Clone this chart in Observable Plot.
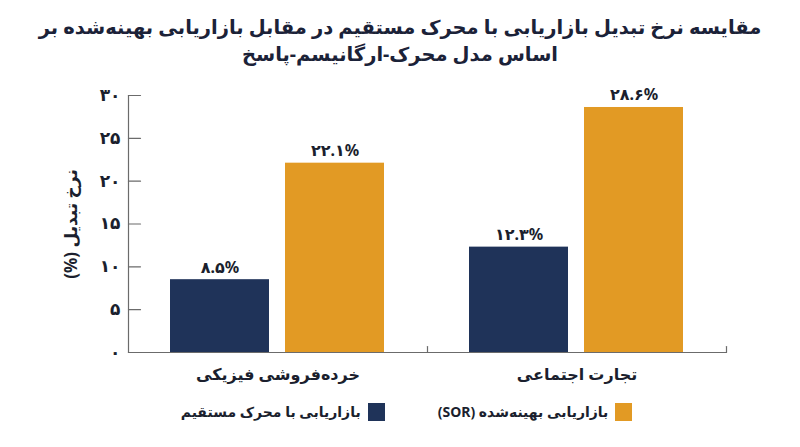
<!DOCTYPE html>
<html lang="fa">
<head>
<meta charset="utf-8">
<script src="https://cdn.jsdelivr.net/npm/d3@7"></script>
<script src="https://cdn.jsdelivr.net/npm/@observablehq/plot@0.6"></script>
<style>
  html, body { margin: 0; padding: 0; background: #fff; }
  body { width: 800px; height: 447px; overflow: hidden; font-family: "Noto Sans", "DejaVu Sans", sans-serif; color: #1b1f2e; }
  #title { margin: 0; padding-top: 13px; height: 57px; text-align: center; direction: rtl; font-size: 19.5px; font-weight: bold; line-height: 27px; color: #1b2238; white-space: nowrap; }
  #chart { height: 330px; }
  #legend { display: flex; direction: rtl; justify-content: center; align-items: center; gap: 53px; margin-top: 2px; padding-left: 13px; font-size: 14px; font-weight: bold; color: #1b1f2e; }
  .item { display: flex; align-items: center; gap: 7px; }
  .sw { width: 17px; height: 18px; display: inline-block; }
</style>
</head>
<body>
<div id="title">مقایسه نرخ تبدیل بازاریابی با محرک مستقیم در مقابل بازاریابی بهینه‌شده بر<br>اساس مدل محرک-ارگانیسم-پاسخ</div>
<div id="chart"></div>
<div id="legend"></div>
<script>
const categories = ["خرده‌فروشی فیزیکی", "تجارت اجتماعی"];
const seriesNames = ["بازاریابی با محرک مستقیم", "بازاریابی بهینه‌شده (SOR)"];
const directValues = [8.5, 12.3];
const sorValues = [22.1, 28.6];
const yTicks = [0, 5, 10, 15, 20, 25, 30];
const yLabel = "نرخ تبدیل (%)";
const colors = ["#1f3359", "#e29a24"];
const legendOrder = [1, 0];

const fa = (s) => String(s).replace(/\d/g, (d) => "۰۱۲۳۴۵۶۷۸۹"[d]);
const RLM = "\u200F";

const data = categories.flatMap((c, i) => [
  {category: c, series: seriesNames[0], value: directValues[i]},
  {category: c, series: seriesNames[1], value: sorValues[i]}
]);

const axisColor = "#6b6b6b";
const lineShape = {draw(context, l) { context.moveTo(0, 0); context.lineTo(0, -l); }};

const chart = Plot.plot({
  width: 800,
  height: 330,
  marginTop: 25,
  marginBottom: 48,
  marginLeft: 128,
  marginRight: 74,
  style: {fontFamily: '"Noto Sans", "DejaVu Sans", sans-serif', fontSize: "16px", fontWeight: "bold", color: "#1b1f2e", background: "transparent"},
  fx: {domain: categories, padding: 0, label: null},
  x: {domain: seriesNames, paddingInner: 0.139, paddingOuter: 0.365, axis: null},
  y: {domain: [0, 30], ticks: yTicks, label: yLabel, tickFormat: fa},
  color: {domain: seriesNames, range: colors},
  marks: [
    Plot.barY(data, {fx: "category", x: "series", y: "value", fill: "series"}),
    Plot.text(data, {fx: "category", x: "series", y: "value", text: (d) => fa(d.value.toFixed(1)) + "%", lineAnchor: "bottom", dy: -7, fontSize: 16, fontWeight: "bold", fill: "#1b1f2e"}),
    Plot.ruleY([0], {stroke: axisColor, strokeWidth: 1.2}),
    Plot.frame({anchor: "left", facetAnchor: "left", stroke: axisColor, strokeWidth: 1.2}),
    Plot.vector([0], {frameAnchor: "bottom-right", length: 6, anchor: "start", rotate: 0, shape: lineShape, stroke: axisColor, strokeWidth: 1.2}),
    Plot.vector(yTicks, {y: (d) => d, frameAnchor: "left", facetAnchor: "left", length: 12, anchor: "start", rotate: 90, shape: lineShape, stroke: axisColor, strokeWidth: 1.2}),
    Plot.axisY({ticks: yTicks, tickSize: 0, tickPadding: 8, tickFormat: fa, label: null, fontSize: 17, fontWeight: "bold", fill: "#1b1f2e"}),
    Plot.axisY({ticks: [], tickSize: 0, label: yLabel + RLM, labelAnchor: "center", labelArrow: "none", labelOffset: 64, fontSize: 17, fontWeight: "bold", fill: "#1b1f2e"}),
    Plot.axisFx({anchor: "bottom", tickSize: 0, tickPadding: 16, label: null, fontSize: 16, fontWeight: "bold", fill: "#1b1f2e"})
  ]
});
document.getElementById("chart").append(chart);

const legend = document.getElementById("legend");
for (const i of legendOrder) {
  const item = document.createElement("div");
  item.className = "item";
  const sw = document.createElement("span");
  sw.className = "sw";
  sw.style.background = colors[i];
  const label = document.createElement("span");
  label.textContent = seriesNames[i];
  item.append(sw, label);
  legend.append(item);
}
</script>
</body>
</html>
